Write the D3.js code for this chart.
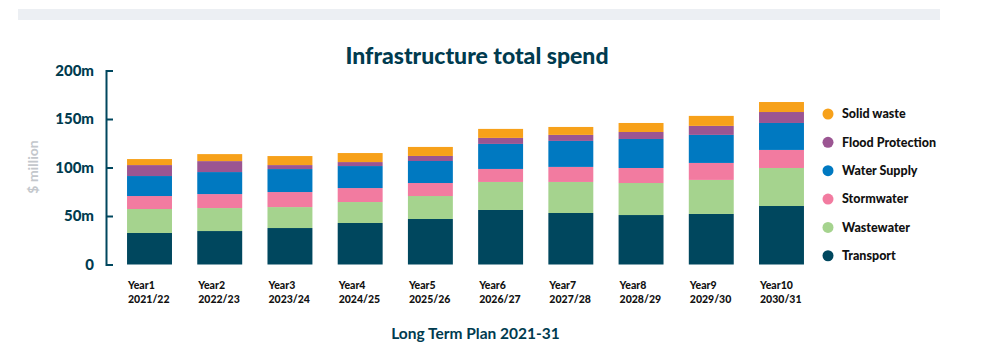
<!DOCTYPE html>
<html><head><meta charset="utf-8">
<script src="https://cdn.jsdelivr.net/npm/d3@7"></script>
<style>
html,body{margin:0;padding:0;background:#fff;}
svg{display:block;}
</style></head>
<body>
<svg id="chart" width="1007" height="361"></svg>
<script>
const years = ["Year1","Year2","Year3","Year4","Year5","Year6","Year7","Year8","Year9","Year10"];
const periods = ["2021/22","2022/23","2023/24","2024/25","2025/26","2026/27","2027/28","2028/29","2029/30","2030/31"];
const seriesNames = ["Transport","Wastewater","Stormwater","Water Supply","Flood Protection","Solid waste"];
const transport      = [32.5, 34.5, 37.6, 42.8, 46.9, 56.2, 53.1, 51.0, 52.1, 60.3];
const wastewater     = [24.7, 23.7, 21.6, 21.6, 23.7, 28.9, 32.0, 33.0, 35.1, 39.2];
const stormwater     = [13.4, 14.4, 15.5, 14.4, 13.4, 13.4, 15.5, 15.5, 17.5, 18.6];
const waterSupply    = [20.6, 22.7, 23.7, 22.7, 22.7, 25.8, 26.8, 29.9, 28.9, 27.8];
const floodProtection= [11.3, 11.3, 4.1, 4.1, 5.2, 6.2, 6.2, 7.2, 9.3, 11.3];
const solidWaste     = [6.2, 7.2, 9.3, 9.3, 9.3, 9.3, 8.2, 9.3, 10.3, 10.3];
const yTickValues = [0, 50, 100, 150, 200];
const yTickLabels = ["0", "50m", "100m", "150m", "200m"];
const colors = ["#00475e","#a5d38e","#f27ba0","#0079c1","#9b5592","#f7a11a"];

const rows = years.map((y,i)=>({year:y, period:periods[i],
  "Transport":transport[i], "Wastewater":wastewater[i], "Stormwater":stormwater[i],
  "Water Supply":waterSupply[i], "Flood Protection":floodProtection[i], "Solid waste":solidWaste[i]}));

const svg = d3.select("#chart");
const dark = "#00475e";

// top band
svg.append("rect").attr("x",18).attr("y",9).attr("width",922).attr("height",11).attr("fill","#eceff3");

// title
svg.append("text").attr("x",477).attr("y",64).attr("text-anchor","middle")
  .attr("font-family","Lato").attr("font-weight",900).attr("font-size",23)
  .attr("fill","#003b4f").text("Infrastructure total spend");

const x = d3.scaleBand().domain(years).range([114.4, 816.6]).paddingInner(0.36).paddingOuter(0.18);
const y = d3.scaleLinear().domain([0,200]).range([264.5, 70.5]);

const stack = d3.stack().keys(seriesNames)(rows);
const color = d3.scaleOrdinal().domain(seriesNames).range(colors);

svg.append("g").selectAll("g").data(stack).join("g").attr("fill",d=>color(d.key))
  .selectAll("rect").data(d=>d).join("rect")
  .attr("x",d=>x(d.data.year)).attr("width",x.bandwidth())
  .attr("y",d=>y(d[1])).attr("height",d=>y(d[0])-y(d[1]));

// y axis
const yAxis = d3.axisLeft(y).tickValues(yTickValues)
  .tickFormat((d,i)=>yTickLabels[i]).tickSizeInner(-7).tickSizeOuter(-7).tickPadding(12);
const gy = svg.append("g").attr("transform","translate(106,0)").call(yAxis);
gy.selectAll("path,line").attr("stroke",dark).attr("stroke-width",2);
gy.selectAll("text").attr("font-family","Lato").attr("font-weight",900)
  .attr("font-size",15).attr("fill","#003b4f");

// y label
svg.append("text").attr("transform","translate(38,167) rotate(-90)").attr("text-anchor","middle")
  .attr("font-family","Lato").attr("font-weight",700).attr("font-size",14)
  .attr("fill","#c3c7cc").text("$ million");

// x labels
const gx = svg.append("g");
years.forEach((yr,i)=>{
  const t = gx.append("text").attr("x",x(yr)+1).attr("font-family","Lato").attr("font-weight",900)
    .attr("font-size",10.5).attr("fill","#111");
  t.append("tspan").attr("x",x(yr)+1).attr("y",289).text(yr);
  t.append("tspan").attr("x",x(yr)+1).attr("y",303).text(periods[i]);
});

svg.append("text").attr("x",475.5).attr("y",339).attr("text-anchor","middle")
  .attr("font-family","Lato").attr("font-weight",700).attr("font-size",15.5)
  .attr("fill","#003b4f").text("Long Term Plan 2021-31");

// legend
const legendOrder = seriesNames.slice().reverse();
const lg = svg.append("g").selectAll("g").data(legendOrder).join("g")
  .attr("transform",(d,i)=>`translate(828,${114 + i*28.35})`);
lg.append("circle").attr("r",5.5).attr("fill",d=>color(d));
lg.append("text").attr("x",14).attr("dy","0.35em").attr("font-family","Lato").attr("font-weight",900)
  .attr("font-size",12.5).attr("fill","#111").text(d=>d);
</script>
</body></html>
